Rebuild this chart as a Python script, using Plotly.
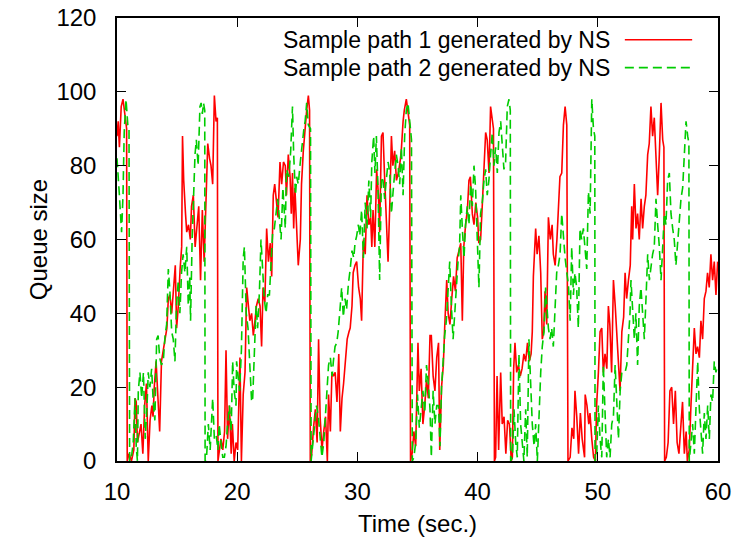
import plotly.graph_objects as go

# ---------------- data ----------------
red_t = [10.0,10.1,10.2,10.35,10.5,10.65,10.8,10.85,11.0,11.2,11.4,11.5,11.6,11.7,11.85,12.0,12.15,12.3,12.45,12.6,
         12.75,12.9,13.0,13.1,13.25,13.4,13.55,13.7,13.85,14.0,14.15,14.27,14.4,14.55,14.7,14.85,14.96,15.1,15.25,15.38,
         15.45,15.55,15.7,15.8,15.95,16.1,16.2,16.35,16.5,16.65,16.8,16.95,17.1,17.25,17.4,17.55,17.7,17.82,17.96,18.1,
         18.24,18.35,18.4,18.5,18.65,18.8,18.95,19.07,19.2,19.35,19.5,19.6,19.75,19.9,20.04,20.23,20.35,20.5,20.65,20.79,
         20.9,21.05,21.2,21.34,21.45,21.6,21.75,21.9,22.03,22.15,22.3,22.45,22.6,22.75,22.87,23.0,23.12,23.25,23.4,23.56,
         23.7,23.85,24.0,24.1,24.25,24.4,24.5,24.6,24.7,24.8,24.95,25.08,25.25,25.35,25.5,25.65,25.78,25.92,26.02,26.08,
         26.2,26.35,26.5,26.65,26.77,26.9,27.05,27.2,27.35,27.5,27.6,27.75,27.88,28.0,28.15,28.3,28.45,28.58,28.72,28.85,
         29.0,29.15,29.3,29.4,29.55,29.65,29.8,29.94,30.1,30.24,30.35,30.5,30.65,30.8,30.95,31.1,31.2,31.3,31.45,31.6,
         31.75,31.85,32.0,32.13,32.25,32.4,32.55,32.7,32.83,32.95,33.1,33.25,33.4,33.55,33.65,33.8,33.9,34.07,34.2,34.35,
         34.42,34.55,34.7,34.85,35.04,35.15,35.3,35.45,35.6,35.75,35.9,36.04,36.15,36.3,36.45,36.6,36.75,36.85,37.0,37.15,
         37.26,37.43,37.55,37.7,37.85,38.0,38.15,38.3,38.45,38.6,38.73,38.85,39.0,39.15,39.28,39.4,39.56,39.7,39.85,40.0,
         40.1,40.25,40.4,40.55,40.67,40.8,40.95,41.08,41.2,41.32,41.4,41.5,41.62,41.75,41.92,42.05,42.2,42.35,42.5,42.65,
         42.8,42.89,43.0,43.11,43.25,43.4,43.55,43.7,43.85,44.0,44.15,44.3,44.45,44.55,44.64,44.83,44.95,45.1,45.25,45.38,
         45.5,45.61,45.75,45.89,46.05,46.2,46.3,46.45,46.6,46.72,46.85,47.0,47.14,47.28,47.42,47.52,47.7,47.85,48.0,48.1,
         48.25,48.4,48.55,48.7,48.9,48.95,49.1,49.25,49.35,49.5,49.65,49.8,49.9,50.05,50.19,50.33,50.46,50.6,50.75,50.88,
         51.0,51.15,51.3,51.45,51.6,51.72,51.85,52.0,52.15,52.27,52.4,52.55,52.7,52.82,52.9,53.04,53.18,53.31,53.45,53.6,
         53.73,53.87,54.0,54.15,54.28,54.42,54.56,54.7,54.84,54.98,55.12,55.26,55.4,55.5,55.56,55.7,55.85,56.0,56.15,56.3,
         56.45,56.6,56.75,56.9,57.05,57.2,57.35,57.45,57.61,57.75,57.89,58.03,58.17,58.3,58.45,58.58,58.72,58.86,59.0,59.13,
         59.27,59.41,59.55,59.69,59.83,59.97]
red_q = [88,92,85,96,98,93,90,0,2,0,3,17,16,5,8,10,2,15,21,0,
         11,15,12,20,27,18,8,27,30,33,36,44,45,40,47,53,36,42,52,58,
         88,76,67,62,64,60,69,72,58,63,69,49,68,54,70,86,82,80,75,99,
         92,93,0,2,6,3,8,30,6,15,2,10,0,5,3,28,0,18,24,47,
         42,38,40,34,37,42,44,42,31,47,43,63,54,59,50,72,75,70,66,81,
         75,81,80,72,83,77,67,78,63,74,64,53,60,75,84,91,95,99,95,0,
         2,9,14,5,33,12,3,8,12,0,18,8,24,23,24,16,29,8,17,21,
         26,33,35,36,42,51,53,54,47,44,38,60,56,72,64,66,58,68,58,79,
         72,62,88,89,78,64,54,70,88,80,84,76,78,81,84,92,95,98,95,91,
         0,2,8,4,32,19,25,10,15,22,17,34,34,23,19,28,32,3,20,26,
         36,49,40,37,44,50,46,55,57,59,38,58,64,68,76,77,67,64,70,66,
         59,60,70,82,89,87,78,96,92,90,0,1,23,3,24,10,12,2,11,10,
         0,1,25,32,24,26,23,25,29,27,32,27,29,35,50,63,56,61,51,33,
         35,46,37,66,60,64,56,53,60,69,77,78,91,96,91,0,1,9,6,19,
         12,2,13,6,1,18,15,10,13,6,1,0,15,24,35,36,24,29,25,42,
         37,24,49,42,33,24,19,35,39,51,44,49,53,69,60,75,63,67,60,71,
         63,69,72,83,86,96,88,93,81,72,83,97,87,85,0,1,5,19,20,10,
         19,5,2,10,16,2,8,0,3,15,26,36,29,31,28,38,33,44,46,51,
         47,56,49,54,45,54]

green_t = [10.0,10.1,10.2,10.25,10.38,10.5,10.6,10.75,10.9,11.0,11.05,11.2,11.35,11.5,11.6,11.7,11.77,11.91,12.05,12.2,
           12.35,12.5,12.6,12.74,12.88,13.0,13.15,13.3,13.42,13.55,13.7,13.85,14.0,14.13,14.27,14.4,14.55,14.68,14.82,14.95,
           15.1,15.23,15.37,15.5,15.65,15.8,15.93,16.05,16.12,16.25,16.35,16.49,16.6,16.75,16.9,17.0,17.1,17.2,17.3,17.33,
           17.45,17.6,17.75,17.96,18.1,18.25,18.4,18.5,18.65,18.8,18.93,19.07,19.2,19.35,19.5,19.62,19.75,19.9,19.95,20.05,
           20.2,20.35,20.5,20.6,20.75,20.9,21.05,21.2,21.29,21.43,21.57,21.7,21.85,21.98,22.12,22.25,22.4,22.54,22.68,22.82,
           22.95,23.09,23.23,23.37,23.5,23.65,23.8,23.93,24.0,24.1,24.3,24.45,24.6,24.7,24.85,24.95,25.08,25.25,25.4,25.55,
           25.65,25.78,25.92,26.1,26.15,26.3,26.45,26.6,26.75,26.9,27.05,27.2,27.35,27.5,27.6,27.75,27.9,28.0,28.14,28.28,
           28.4,28.55,28.69,28.83,28.97,29.1,29.25,29.4,29.55,29.7,29.8,29.94,30.08,30.2,30.35,30.5,30.65,30.8,30.95,31.1,
           31.2,31.35,31.46,31.58,31.72,31.85,32.0,32.13,32.27,32.4,32.55,32.7,32.83,32.97,33.1,33.24,33.38,33.52,33.66,33.8,
           33.93,34.07,34.21,34.35,34.5,34.57,34.7,34.85,35.0,35.15,35.3,35.45,35.6,35.75,35.9,36.04,36.15,36.3,36.45,36.6,
           36.75,36.87,37.0,37.15,37.26,37.4,37.54,37.68,37.82,37.96,38.1,38.24,38.37,38.5,38.6,38.73,38.87,39.0,39.14,39.28,
           39.42,39.56,39.7,39.83,39.97,40.11,40.25,40.39,40.53,40.67,40.8,40.94,41.08,41.22,41.36,41.5,41.64,41.78,41.92,42.05,
           42.19,42.33,42.47,42.61,42.72,42.75,42.9,43.03,43.17,43.3,43.44,43.58,43.72,43.85,44.0,44.13,44.27,44.4,44.55,44.7,
           44.83,44.97,45.1,45.25,45.38,45.52,45.66,45.75,45.89,46.03,46.16,46.3,46.44,46.58,46.72,46.86,47.0,47.14,47.28,47.42,
           47.55,47.7,47.83,47.97,48.1,48.24,48.38,48.52,48.66,48.8,48.94,49.08,49.22,49.36,49.5,49.64,49.75,49.77,49.9,50.05,
           50.19,50.33,50.46,50.6,50.74,50.88,51.02,51.16,51.3,51.44,51.58,51.72,51.86,52.0,52.13,52.27,52.41,52.55,52.68,52.76,
           52.9,53.04,53.17,53.31,53.45,53.59,53.73,53.87,54.01,54.15,54.29,54.42,54.56,54.7,54.84,54.98,55.12,55.26,55.4,55.54,
           55.67,55.81,55.95,56.09,56.23,56.36,56.5,56.64,56.78,56.92,57.06,57.2,57.34,57.48,57.58,57.61,57.75,57.89,58.03,58.17,
           58.31,58.45,58.59,58.72,58.86,59.0,59.14,59.28,59.41,59.55,59.69,59.83,59.97]
green_q = [82,78,72,69,62,72,89,98,91,90,0,1,5,17,4,0,19,24,17,24,
           6,15,24,20,25,17,11,33,34,28,26,27,34,37,52,46,35,33,27,42,
           49,40,51,56,51,58,42,50,38,60,69,83,87,80,96,97,94,97,95,0,
           1,10,3,17,6,7,3,10,5,1,1,4,10,15,8,27,19,15,27,24,
           19,30,55,58,40,36,24,16,17,33,42,36,46,60,51,44,40,45,45,56,
           62,63,67,71,66,60,74,67,63,79,77,84,96,83,72,77,75,81,86,90,
           92,97,91,90,0,5,9,15,12,6,1,5,14,23,26,28,23,27,31,32,
           35,41,47,39,44,41,48,52,57,55,59,61,64,61,68,55,70,63,76,66,
           81,88,78,88,73,49,77,76,71,76,81,78,67,73,78,83,80,75,85,72,
           88,95,97,92,87,0,1,5,18,9,15,19,13,26,21,14,1,19,10,15,
           15,4,20,28,34,38,45,54,42,33,40,49,54,58,72,63,55,64,69,64,
           75,69,80,74,58,47,67,70,76,79,72,76,83,89,80,85,78,89,92,86,
           79,81,96,98,95,0,1,14,5,1,29,10,5,0,14,1,33,24,10,4,
           10,0,13,24,31,35,47,42,36,33,36,31,42,51,53,56,67,60,55,51,
           48,38,58,45,51,47,36,63,60,63,58,52,73,67,98,90,88,0,1,15,
           6,1,26,10,1,6,1,10,12,26,17,6,19,24,24,24,26,33,40,49,
           39,33,40,26,42,47,40,33,44,56,49,53,56,58,71,64,58,49,60,67,
           64,76,78,67,63,60,53,60,67,71,74,82,92,88,86,0,6,10,2,14,
           27,14,7,2,13,6,15,6,18,16,27,24,26]

series_names = ["Sample path 1 generated by NS", "Sample path 2 generated by NS"]
series_colors = ["#ff0000", "#00cc00"]
series_dash = ["solid", "9px,5px"]

x_ticks = [10, 20, 30, 40, 50, 60]
y_ticks = [0, 20, 40, 60, 80, 100, 120]

FONT = "Liberation Sans, Arial, Helvetica, sans-serif"

fig = go.Figure()
for tt, qq, name, col, dsh in [(red_t, red_q, series_names[0], series_colors[0], series_dash[0]),
                               (green_t, green_q, series_names[1], series_colors[1], series_dash[1])]:
    fig.add_trace(go.Scatter(x=tt, y=qq, mode="lines", name=name,
                             line=dict(color=col, width=1.6, dash=dsh), showlegend=False))

# gnuplot-style key: text right-aligned, line sample to its right
key_rows_y = [0.951, 0.888]
for i in range(2):
    fig.add_annotation(xref="paper", yref="paper", x=0.822, y=key_rows_y[i], text=series_names[i],
                       showarrow=False, xanchor="right", yanchor="middle", borderpad=0,
                       font=dict(family=FONT, size=23, color="black"))
    fig.add_shape(type="line", xref="paper", yref="paper", x0=0.845, x1=0.957,
                  y0=key_rows_y[i], y1=key_rows_y[i],
                  line=dict(color=series_colors[i], width=1.6, dash=series_dash[i]))

axis_common = dict(showline=True, linecolor="black", linewidth=1.5, mirror="allticks",
                   ticks="inside", ticklen=9, tickwidth=1.2, tickcolor="black",
                   showgrid=False, zeroline=False, automargin=False,
                   tickfont=dict(family=FONT, size=24, color="black"))

fig.update_xaxes(range=[10, 60], tickvals=x_ticks, ticktext=[str(v) for v in x_ticks],
                 title=dict(text="Time (sec.)", font=dict(family=FONT, size=24, color="black"), standoff=12),
                 ticklabelstandoff=8, **axis_common)
fig.update_yaxes(range=[0, 120], tickvals=y_ticks, ticktext=[str(v) for v in y_ticks],
                 title=dict(text="Queue size", font=dict(family=FONT, size=24, color="black"), standoff=2),
                 ticklabelstandoff=14, **axis_common)

fig.update_layout(width=738, height=542, margin=dict(l=117, r=20, t=18, b=81),
                  paper_bgcolor="white", plot_bgcolor="white",
                  font=dict(family=FONT, size=24, color="black"))

fig.write_html("out.html")
